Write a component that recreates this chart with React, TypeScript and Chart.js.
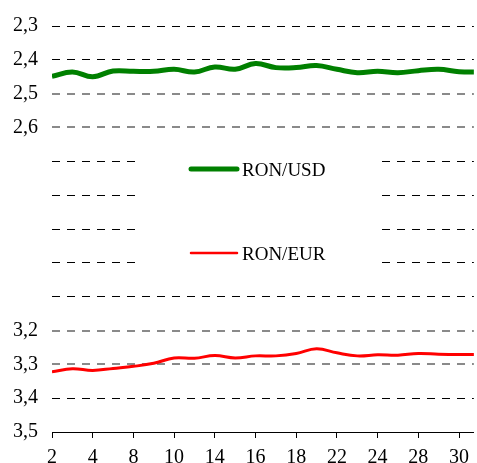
import React, { useEffect, useRef } from "react";
import { Chart, registerables } from "chart.js";

Chart.register(...registerables);

const days = ["2", "3", "4", "7", "8", "9", "10", "11", "14", "15", "16", "17", "18", "21", "22", "23", "24", "25", "28", "29", "30", "31"];
const ronUsd = [2.449, 2.436, 2.45, 2.433, 2.434, 2.434, 2.428, 2.436, 2.421, 2.428, 2.411, 2.423, 2.423, 2.417, 2.428, 2.438, 2.434, 2.438, 2.432, 2.428, 2.435, 2.436];
const ronEur = [3.322, 3.313, 3.318, 3.312, 3.306, 3.297, 3.281, 3.282, 3.274, 3.281, 3.275, 3.275, 3.268, 3.254, 3.266, 3.275, 3.272, 3.273, 3.268, 3.27, 3.271, 3.271];
const yTickLabels = ["2,3", "2,4", "2,5", "2,6", "", "", "", "", "", "3,2", "3,3", "3,4", "3,5"];
const seriesNames = ["RON/USD", "RON/EUR"];
const seriesColors = ["#008000", "#FF0000"];

const FONT = "Liberation Serif";

const idxOf = (v: number) => Math.round((v - 2.3) / 0.1);
const gridColor = (i: number) => {
  if (i === 12) return "rgba(0,0,0,0)";
  if (i === 2 || i === 3 || i === 9 || i === 10) return "#8a8a8a";
  return "#000000";
};
const gridWidth = (i: number) => (i === 2 || i === 3 || i === 9 || i === 10 ? 2 : 1);

const legendPlugin = {
  id: "boxLegend",
  afterDatasetsDraw(chart: any) {
    const { ctx } = chart;
    ctx.save();
    ctx.fillStyle = "#ffffff";
    ctx.fillRect(138, 135, 238, 150);
    const items = [
      { y: 169, w: 5 },
      { y: 253, w: 2.5 },
    ];
    chart.data.datasets.forEach((ds: any, i: number) => {
      const it = items[i];
      ctx.beginPath();
      ctx.strokeStyle = ds.borderColor;
      ctx.lineWidth = it.w;
      ctx.lineCap = "round";
      ctx.moveTo(191, it.y);
      ctx.lineTo(237, it.y);
      ctx.stroke();
      ctx.fillStyle = "#000";
      ctx.font = `19px ${FONT}`;
      ctx.textBaseline = "middle";
      ctx.textAlign = "left";
      ctx.fillText(ds.label, 242, it.y + 2);
    });
    ctx.restore();
  },
};

export default function App() {
  const ref = useRef<HTMLCanvasElement | null>(null);
  useEffect(() => {
    let chart: Chart | null = null;
    let cancelled = false;
    const build = () => {
      if (cancelled || !ref.current) return;
      chart = new Chart(ref.current, {
        type: "line",
        data: {
          datasets: [
            {
              label: seriesNames[0],
              data: ronUsd.map((v, i) => ({ x: i, y: v })),
              borderColor: seriesColors[0],
              borderWidth: 5,
              pointRadius: 0,
              tension: 0.4,
              fill: false,
            },
            {
              label: seriesNames[1],
              data: ronEur.map((v, i) => ({ x: i, y: v })),
              borderColor: seriesColors[1],
              borderWidth: 3,
              pointRadius: 0,
              tension: 0.4,
              fill: false,
            },
          ],
        },
        options: {
          responsive: false,
          animation: false,
          layout: { padding: { top: 21, left: 0, right: 0, bottom: 0 } },
          plugins: { legend: { display: false }, tooltip: { enabled: false } },
          scales: {
            x: {
              type: "linear",
              min: 0,
              max: 20.73,
              afterFit: (s: any) => {
                s.height = 31;
              },
              border: { display: true, color: "#000", width: 1 },
              grid: { drawOnChartArea: false, drawTicks: true, tickLength: 6, color: "#000" },
              ticks: {
                stepSize: 2,
                includeBounds: false,
                autoSkip: false,
                maxRotation: 0,
                padding: 8,
                color: "#000",
                font: { family: FONT, size: 20 },
                callback: (v: any) => days[Math.round(Number(v))] ?? "",
              },
            },
            y: {
              reverse: true,
              min: 2.3,
              max: 3.5,
              afterFit: (s: any) => {
                s.width = 52;
              },
              border: { display: false, dash: [8, 7] },
              grid: {
                drawTicks: false,
                color: (c: any) => gridColor(idxOf(c.tick ? c.tick.value : 0)),
                lineWidth: (c: any) => gridWidth(idxOf(c.tick ? c.tick.value : 0)),
              },
              ticks: {
                stepSize: 0.1,
                autoSkip: false,
                padding: 14,
                color: "#000",
                font: { family: FONT, size: 20 },
                callback: (v: any) => yTickLabels[idxOf(Number(v))] ?? "",
              },
            },
          },
        },
        plugins: [legendPlugin],
      });
    };
    const fonts: any = (document as any).fonts;
    const start = () => requestAnimationFrame(() => setTimeout(build, 30));
    if (fonts && fonts.ready) fonts.ready.then(start, start);
    else start();
    return () => {
      cancelled = true;
      if (chart) chart.destroy();
    };
  }, []);
  return (
    <div>
      <span
        style={{
          position: "absolute",
          left: 0,
          top: 0,
          fontFamily: FONT,
          fontSize: 20,
          color: "rgba(0,0,0,0)",
          pointerEvents: "none",
        }}
      >
        RON/USD 2,3
      </span>
      <canvas
        ref={ref}
        width={477}
        height={463}
        style={{ position: "absolute", left: 0, top: 0, display: "block" }}
      />
    </div>
  );
}
